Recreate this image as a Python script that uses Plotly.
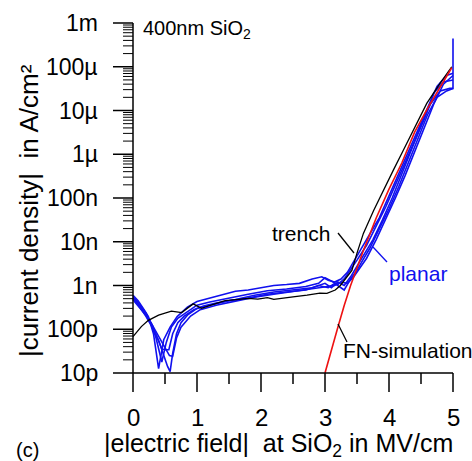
import math
import plotly.graph_objects as go

# |electric field| in MV/cm and |current density| in A/cm^2

# trench capacitor
E_trench = [0.00, 0.13, 0.24, 0.40, 0.60, 0.76, 0.94, 1.07, 1.23, 1.44, 1.65, 1.80, 1.95,
            2.10, 2.20, 2.35, 2.50, 2.72, 2.92, 3.03, 3.16, 3.24, 3.34, 3.42, 3.50, 3.60,
            3.76, 3.91, 4.07, 4.22, 4.43, 4.59, 4.80, 4.98]
J_trench = [6.8e-11, 1.15e-10, 1.6e-10, 2.1e-10, 2.6e-10, 2.4e-10, 3.8e-10, 3.0e-10, 3.6e-10,
            4.5e-10, 4.8e-10, 5.1e-10, 4.9e-10, 5.3e-10, 4.8e-10, 5.2e-10, 5.5e-10, 6.0e-10,
            6.7e-10, 6.6e-10, 7.9e-10, 1.0e-9, 1.6e-9, 2.2e-9, 5.5e-9, 1.55e-8, 5.2e-8, 1.5e-7,
            4.4e-7, 1.2e-6, 5.0e-6, 1.45e-5, 4.2e-5, 1.0e-4]

# Fowler-Nordheim simulation
E_fn = [3.00, 3.10, 3.20, 3.30, 3.40, 3.50, 3.60, 3.80, 4.00, 4.20, 4.40, 4.60, 4.80, 4.98]
J_fn = [1.0e-11, 3.5e-11, 1.1e-10, 3.5e-10, 1.0e-9, 2.5e-9, 6.3e-9, 3.5e-8, 1.6e-7, 6.3e-7,
        3.2e-6, 1.1e-5, 3.5e-5, 9.5e-5]

# planar capacitors (five samples)
E_planar1 = [0.00, 0.08, 0.16, 0.24, 0.32, 0.40, 0.48, 0.58, 0.69, 0.85, 1.00, 1.20, 1.40,
             1.60, 1.80, 2.00, 2.20, 2.40, 2.60, 2.80, 2.95, 3.05, 3.15, 3.25, 3.35, 3.45,
             3.55, 3.70, 3.85, 4.00, 4.15, 4.30, 4.45, 4.60, 4.75, 4.90, 5.00]
J_planar1 = [6.0e-10, 4.5e-10, 3.0e-10, 1.95e-10, 7.9e-11, 1.26e-11, 5.75e-11, 1.12e-10,
             1.95e-10, 3.2e-10, 4.3e-10, 5.2e-10, 6.3e-10, 7.4e-10, 7.9e-10, 8.9e-10, 1.0e-9,
             1.05e-9, 1.12e-9, 1.41e-9, 1.58e-9, 1.32e-9, 1.2e-9, 1.41e-9, 2.0e-9, 3.55e-9,
             6.3e-9, 1.41e-8, 3.55e-8, 1.12e-7, 3.55e-7, 1.12e-6, 3.55e-6, 1.12e-5, 3.55e-5,
             6.3e-5, 7.1e-5]

E_planar2 = [0.00, 0.10, 0.20, 0.28, 0.36, 0.45, 0.52, 0.60, 0.70, 0.85, 1.00, 1.20, 1.50,
             1.80, 2.10, 2.40, 2.70, 2.90, 3.00, 3.10, 3.20, 3.30, 3.40, 3.50, 3.65, 3.80,
             3.95, 4.10, 4.25, 4.40, 4.55, 4.70, 4.85, 5.00]
J_planar2 = [5.6e-10, 3.8e-10, 2.4e-10, 1.41e-10, 6.3e-11, 1.78e-11, 5.0e-11, 1.12e-10,
             1.78e-10, 2.5e-10, 3.55e-10, 4.2e-10, 5.2e-10, 6.3e-10, 7.6e-10, 8.3e-10, 9.5e-10,
             1.12e-9, 1.51e-9, 1.26e-9, 1.05e-9, 1.41e-9, 2.4e-9, 3.8e-9, 8.3e-9, 2.24e-8,
             6.3e-8, 2.0e-7, 6.3e-7, 2.0e-6, 6.3e-6, 2.5e-5, 4.5e-5, 5.0e-5]

E_planar3 = [0.00, 0.10, 0.20, 0.30, 0.38, 0.45, 0.50, 0.56, 0.62, 0.70, 0.80, 0.95, 1.10,
             1.30, 1.60, 1.90, 2.20, 2.50, 2.80, 3.00, 3.10, 3.20, 3.30, 3.40, 3.50, 3.60,
             3.75, 3.90, 4.05, 4.20, 4.35, 4.50, 4.65, 4.80, 4.95, 5.00, 5.00]
J_planar3 = [5.2e-10, 3.55e-10, 2.24e-10, 1.26e-10, 6.3e-11, 3.55e-11, 3.4e-11, 3.4e-11,
             7.9e-11, 1.41e-10, 2.0e-10, 2.8e-10, 3.4e-10, 4.0e-10, 4.8e-10, 6.0e-10, 7.1e-10,
             7.9e-10, 8.9e-10, 1.12e-9, 8.9e-10, 1.2e-9, 1.0e-9, 1.58e-9, 2.8e-9, 5.0e-9,
             1.12e-8, 3.2e-8, 1.0e-7, 3.55e-7, 1.26e-6, 4.5e-6, 1.41e-5, 2.8e-5, 3.2e-5,
             3.2e-5, 4.4e-4]

E_planar4 = [0.00, 0.10, 0.20, 0.30, 0.40, 0.48, 0.54, 0.58, 0.62, 0.68, 0.75, 0.85, 1.00,
             1.20, 1.50, 1.80, 2.10, 2.40, 2.70, 2.90, 3.05, 3.15, 3.30, 3.40, 3.50, 3.60,
             3.70, 3.85, 4.00, 4.15, 4.30, 4.45, 4.60, 4.75, 4.90, 5.00]
J_planar4 = [5.0e-10, 3.3e-10, 2.0e-10, 1.12e-10, 5.6e-11, 2.5e-11, 1.41e-11, 1.08e-11,
             2.8e-11, 7.9e-11, 1.41e-10, 2.1e-10, 3.0e-10, 3.55e-10, 4.5e-10, 5.2e-10, 6.3e-10,
             7.1e-10, 7.9e-10, 1.0e-9, 8.9e-10, 1.12e-9, 7.9e-10, 1.41e-9, 2.24e-9, 4.0e-9,
             7.1e-9, 2.0e-8, 5.6e-8, 1.78e-7, 6.3e-7, 2.24e-6, 7.9e-6, 2.0e-5, 2.8e-5, 3.2e-5]

E_planar5 = [0.00, 0.10, 0.20, 0.30, 0.40, 0.50, 0.57, 0.62, 0.68, 0.75, 0.90, 1.05, 1.30,
             1.60, 1.90, 2.20, 2.50, 2.80, 3.00, 3.15, 3.25, 3.35, 3.45, 3.55, 3.65, 3.80,
             3.95, 4.10, 4.25, 4.40, 4.55, 4.70, 4.85, 5.00]
J_planar5 = [4.7e-10, 3.2e-10, 2.1e-10, 1.26e-10, 7.1e-11, 4.0e-11, 2.5e-11, 2.4e-11,
             6.3e-11, 1.12e-10, 2.0e-10, 2.8e-10, 3.55e-10, 4.4e-10, 5.4e-10, 6.3e-10, 7.2e-10,
             8.3e-10, 9.3e-10, 1.0e-9, 1.2e-9, 1.12e-9, 1.58e-9, 2.5e-9, 4.2e-9, 1.12e-8,
             3.2e-8, 1.0e-7, 3.2e-7, 1.12e-6, 4.0e-6, 1.41e-5, 4.0e-5, 6.3e-5]

# axis ticks
x_major = [0, 1, 2, 3, 4, 5]
x_labels = ["0", "1", "2", "3", "4", "5"]
x_minor = [0.5, 1.5, 2.5, 3.5, 4.5]
y_major = [1e-11, 1e-10, 1e-9, 1e-8, 1e-7, 1e-6, 1e-5, 1e-4, 1e-3]
y_labels = ["10p", "100p", "1n", "10n", "100n", "1µ", "10µ", "100µ", "1m"]
y_minor = [m * d for d in y_major[:-1] for m in range(2, 10)]

# frame geometry: the axes are drawn as lines inside a full-page plot area
W, H = 472, 461
X0_PX, SX = 133.0, 64.0          # pixel of E = 0, pixels per MV/cm
TOP_PX, SY = 23.0, 43.75         # pixel of 1 mA/cm^2, pixels per decade
E_MIN, E_MAX = 0.0, 5.0
J_MIN, J_MAX = 1e-11, 1e-3

x_range = [-X0_PX / SX, (W - X0_PX) / SX]
y_range = [-3 - (H - TOP_PX) / SY, -3 + TOP_PX / SY]

FONT = "Liberation Sans, Arial, sans-serif"
BLUE = "#1010ee"


def paper(px, py):
    return px / W, 1 - py / H


fig = go.Figure()

planar = [(E_planar1, J_planar1), (E_planar2, J_planar2), (E_planar3, J_planar3),
          (E_planar4, J_planar4), (E_planar5, J_planar5)]
for E, J in planar:
    fig.add_trace(go.Scatter(x=E, y=J, mode="lines", hoverinfo="skip",
                             line=dict(color=BLUE, width=1.6), showlegend=False))

fig.add_trace(go.Scatter(x=E_trench, y=J_trench, mode="lines", hoverinfo="skip",
                         line=dict(color="black", width=1.3), showlegend=False))
fig.add_trace(go.Scatter(x=E_fn, y=J_fn, mode="lines", hoverinfo="skip",
                         line=dict(color="#ee1111", width=1.6), showlegend=False))


def segments(pairs):
    xs, ys = [], []
    for (xa, ya), (xb, yb) in pairs:
        xs += [xa, xb, None]
        ys += [ya, yb, None]
    return xs, ys


def dec_below(j, px):
    return 10 ** (math.log10(j) - px / SY)


# axis lines and tick marks
axis_lines = [((E_MIN, J_MIN), (E_MAX, J_MIN)), ((E_MIN, J_MIN), (E_MIN, J_MAX))]
major_ticks = ([((e, J_MIN), (e, dec_below(J_MIN, 19))) for e in x_major] +
               [((E_MIN, j), (E_MIN - 20 / SX, j)) for j in y_major])
minor_x_ticks = [((e, J_MIN), (e, dec_below(J_MIN, 11))) for e in x_minor]
minor_y_ticks = [((E_MIN, j), (E_MIN - 10 / SX, j)) for j in y_minor]

for pairs, w in [(axis_lines, 1.5), (major_ticks, 1.5), (minor_x_ticks, 1.5),
                 (minor_y_ticks, 1.0)]:
    xs, ys = segments(pairs)
    fig.add_trace(go.Scatter(x=xs, y=ys, mode="lines", hoverinfo="skip",
                             line=dict(color="black", width=w), showlegend=False))

fig.update_layout(
    width=W, height=H,
    margin=dict(l=0, r=0, t=0, b=0),
    paper_bgcolor="white", plot_bgcolor="white",
    showlegend=False,
    xaxis=dict(range=x_range, visible=False, fixedrange=True),
    yaxis=dict(type="log", range=y_range, visible=False, fixedrange=True),
)

# tick labels
for e, t in zip(x_major, x_labels):
    fig.add_annotation(text=t, xref="x", yref="y", x=e,
                       y=math.log10(J_MIN) - 44 / SY,
                       xanchor="center", yanchor="middle", showarrow=False,
                       font=dict(size=24, family=FONT, color="black"))
for j, t in zip(y_major, y_labels):
    fig.add_annotation(text=t, xref="x", yref="y", x=E_MIN - 33 / SX, y=math.log10(j),
                       xanchor="right", yanchor="middle", showarrow=False,
                       font=dict(size=23, family=FONT, color="black"))

# titles and labels (pixel positions on the page)
labels = [
    ("|current density|  in A/cm²", (29, 211), "center", 26, "black", -90),
    ("|electric field|  at SiO<sub>2</sub> in MV/cm", (278, 445), "center", 25, "black", 0),
    ("(c)", (27, 450), "center", 20, "black", 0),
    ("400nm SiO<sub>2</sub>", (141, 30), "left", 20, "black", 0),
    ("trench", (270, 233), "left", 21, "black", 0),
    ("planar", (387, 273), "left", 21, BLUE, 0),
    ("FN-simulation", (341, 350), "left", 21, "black", 0),
]
for text, (px, py), anchor, size, color, angle in labels:
    x, y = paper(px, py)
    fig.add_annotation(text=text, xref="paper", yref="paper", x=x, y=y,
                       xanchor=anchor, yanchor="middle", showarrow=False, textangle=angle,
                       font=dict(size=size, family=FONT, color=color))

# leader lines from the labels to the curves
leaders = [
    ((338, 233), (354, 253), "black"),
    ((373, 247), (387, 262), BLUE),
    ((338, 324), (347, 342), "black"),
]
for p0, p1, c in leaders:
    x0, y0 = paper(*p0)
    x1, y1 = paper(*p1)
    fig.add_shape(type="line", xref="paper", yref="paper", x0=x0, y0=y0, x1=x1, y1=y1,
                  line=dict(color=c, width=1.3))

fig.write_html("out.html")
